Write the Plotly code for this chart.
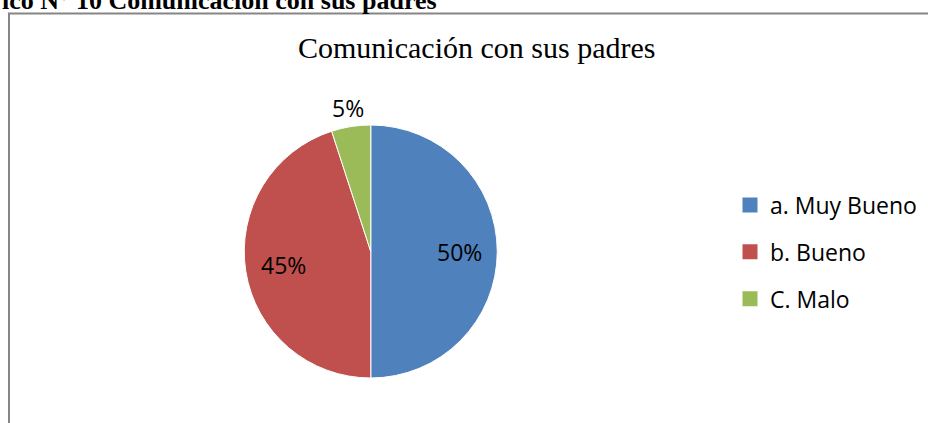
import math
import plotly.graph_objects as go

W, H = 928, 423

categories = ["a. Muy Bueno", "b. Bueno", "C. Malo"]
values = [50, 45, 5]
colors = ["#4F81BD", "#C0504D", "#9BBB59"]
label_inside = [True, True, False]
chart_title = "Comunicación con sus padres"
heading = "ico N° 10 Comunicación con sus padres"

def px_x(p):
    return p / W

def px_y(p):
    return 1 - p / H

# pie geometry (pixels)
PIE_L, PIE_R, PIE_T, PIE_B = 244, 497.5, 125, 378
cx, cy = (PIE_L + PIE_R) / 2, (PIE_T + PIE_B) / 2
rad = (PIE_R - PIE_L) / 2

fig = go.Figure()

fig.add_trace(go.Pie(
    labels=categories,
    values=values,
    sort=False,
    direction="clockwise",
    rotation=0,
    marker=dict(colors=colors, line=dict(color="white", width=1)),
    textinfo="none",
    domain=dict(x=[px_x(PIE_L), px_x(PIE_R)], y=[px_y(PIE_B), px_y(PIE_T)]),
    showlegend=False,
    hoverinfo="label+percent",
))

# data labels placed at the mid-angle of each slice
annotations = []
total = sum(values)
cum = 0
for v, inside in zip(values, label_inside):
    mid = (cum + v / 2) / total * 2 * math.pi
    cum += v
    f = 0.70 if inside else 1.15
    lx = cx + f * rad * math.sin(mid)
    ly = cy - f * rad * math.cos(mid)
    annotations.append(dict(
        text=f"{round(v / total * 100)}%", x=px_x(lx), y=px_y(ly),
        xref="paper", yref="paper", xanchor="center", yanchor="middle",
        showarrow=False, font=dict(family="Open Sans", size=23, color="black"),
    ))

# legend entries (square markers), one group each for spacing
for name, col in zip(categories, colors):
    fig.add_trace(go.Scatter(
        x=[None], y=[None], mode="markers", name=name,
        marker=dict(symbol="square", size=15, color=col),
        legendgroup=name, showlegend=True,
    ))

annotations += [
    dict(text=chart_title, x=px_x(477), y=px_y(47), xref="paper", yref="paper",
         xanchor="center", yanchor="middle", showarrow=False,
         font=dict(family="Liberation Serif", size=30, color="black")),
    dict(text="<b>" + heading + "</b>", x=0, y=px_y(0), xref="paper", yref="paper",
         xanchor="left", yanchor="middle", showarrow=False,
         font=dict(family="Liberation Serif", size=26, color="black")),
]

fig.update_layout(
    width=W, height=H,
    margin=dict(l=0, r=0, t=0, b=0),
    paper_bgcolor="white", plot_bgcolor="white",
    xaxis=dict(visible=False), yaxis=dict(visible=False),
    legend=dict(
        x=px_x(730), y=px_y(183.5), xanchor="left", yanchor="top",
        font=dict(family="Open Sans", size=23, color="black"),
        tracegroupgap=14, itemwidth=30,
        bgcolor="rgba(0,0,0,0)",
    ),
    shapes=[dict(
        type="rect", xref="paper", yref="paper",
        x0=px_x(9), x1=px_x(940), y0=px_y(440), y1=px_y(13.5),
        line=dict(color="#868686", width=2), fillcolor="rgba(0,0,0,0)",
        layer="below",
    )],
    annotations=annotations,
)

fig.write_html("out.html", config={"displayModeBar": False},
               post_script="document.body.style.margin='0px';")
